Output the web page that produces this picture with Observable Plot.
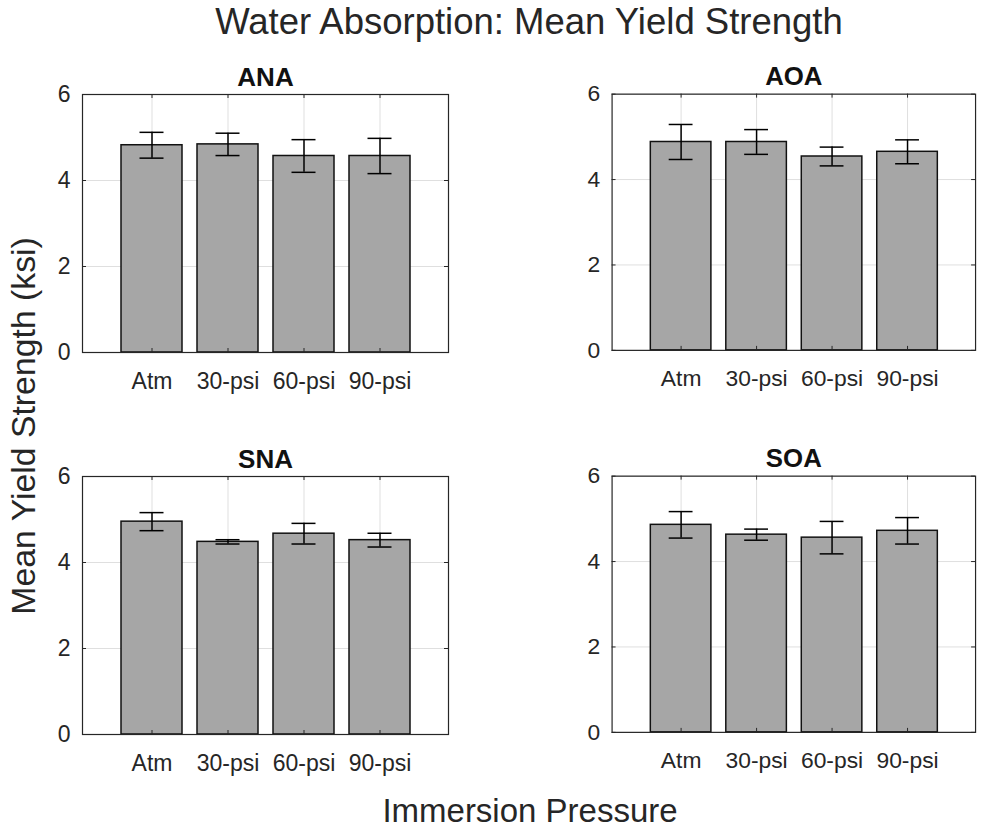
<!DOCTYPE html>
<html>
<head>
<meta charset="utf-8">
<script src="https://cdn.jsdelivr.net/npm/d3@7"></script>
<script src="https://cdn.jsdelivr.net/npm/@observablehq/plot@0.6"></script>
<style>
  body { margin: 0; background: #fff; }
  #fig { position: relative; width: 985px; height: 828px; background: #fff; overflow: hidden;
         font-family: "Liberation Sans", Arial, Helvetica, sans-serif; color: #262626; }
  .panel { position: absolute; }
  .lbl { position: absolute; white-space: nowrap; line-height: 1; text-align: center; }
  #title { left: 79px; width: 900px; top: 4px; font-size: 36.5px; }
  #xlabel { left: 230px; width: 600px; top: 794px; font-size: 33px; }
  #ylabel { left: -276px; width: 600px; top: 409px; font-size: 33.8px; transform: rotate(-90deg); }
</style>
</head>
<body>
<div id="fig">
  <div class="lbl" id="title">Water Absorption: Mean Yield Strength</div>
  <div class="lbl" id="ylabel">Mean Yield Strength (ksi)</div>
  <div class="lbl" id="xlabel">Immersion Pressure</div>
</div>
<script>
// Immersion pressure categories (x tick labels)
const pressures = ["Atm", "30-psi", "60-psi", "90-psi"];
// Y tick values (ksi)
const yTicks = [0, 2, 4, 6];
// Panel names
const panelNames = ["ANA", "AOA", "SNA", "SOA"];

// Mean yield strength (ksi) and error-bar half-lengths per panel
const meanANA = [4.82, 4.84, 4.57, 4.57];
const errANA  = [0.30, 0.26, 0.38, 0.41];
const meanAOA = [4.88, 4.88, 4.54, 4.65];
const errAOA  = [0.41, 0.29, 0.22, 0.28];
const meanSNA = [4.95, 4.48, 4.67, 4.52];
const errSNA  = [0.21, 0.05, 0.24, 0.16];
const meanSOA = [4.86, 4.63, 4.56, 4.72];
const errSOA  = [0.31, 0.13, 0.38, 0.31];

const series = {
  ANA: [meanANA, errANA],
  AOA: [meanAOA, errAOA],
  SNA: [meanSNA, errSNA],
  SOA: [meanSOA, errSOA]
};

// Axes box geometry
const boxW = 366, boxH = 258;
const ML = 60, MR = 10, MT = 50, MB = 50;
const W = ML + boxW + MR, H = MT + boxH + MB;
const boxLefts = [82, 612];
const boxTops = [94, 476];

const ink = "#262626";
const gridColor = "#dfdfdf";
const tickLen = 4;

function panel(name) {
  const [means, errs] = series[name];
  const rows = pressures.map((p, i) => ({pressure: p, mean: means[i], err: errs[i]}));
  return Plot.plot({
    width: W, height: H,
    marginLeft: ML, marginRight: MR, marginTop: MT, marginBottom: MB,
    style: {fontFamily: '"Liberation Sans", Arial, Helvetica, sans-serif', fontSize: "23px",
            color: ink, background: "transparent", overflow: "visible"},
    x: {domain: pressures, paddingInner: 0.2, paddingOuter: 0.5, label: null},
    y: {domain: [0, 6], label: null},
    marks: [
      Plot.gridY(yTicks, {stroke: gridColor, strokeOpacity: 1}),
      Plot.gridX(pressures, {stroke: gridColor, strokeOpacity: 1}),
      Plot.barY(rows, {x: "pressure", y: "mean", fill: "#a6a6a6", stroke: "#111", strokeWidth: 1.5}),
      // error bars with caps
      Plot.ruleX(rows, {x: "pressure", y1: d => d.mean - d.err, y2: d => d.mean + d.err, stroke: "#000", strokeWidth: 1.5}),
      Plot.tickY(rows, {x: "pressure", y: d => d.mean - d.err, insetLeft: 18.5, insetRight: 18.5, stroke: "#000", strokeWidth: 1.5}),
      Plot.tickY(rows, {x: "pressure", y: d => d.mean + d.err, insetLeft: 18.5, insetRight: 18.5, stroke: "#000", strokeWidth: 1.5}),
      // inward tick marks on all four sides
      Plot.ruleX(pressures, {x: d => d, insetTop: boxH - tickLen, stroke: ink}),
      Plot.ruleX(pressures, {x: d => d, insetBottom: boxH - tickLen, stroke: ink}),
      Plot.ruleY(yTicks, {y: d => d, insetRight: boxW - tickLen, stroke: ink}),
      Plot.ruleY(yTicks, {y: d => d, insetLeft: boxW - tickLen, stroke: ink}),
      Plot.axisX({tickSize: 0, tickPadding: 20, fontSize: 23}),
      Plot.axisY(yTicks, {tickSize: 0, tickPadding: 12, fontSize: 23}),
      Plot.text([name], {frameAnchor: "top", dy: -9, lineAnchor: "bottom", fontWeight: "bold", fontSize: 26, fill: "#111"}),
      Plot.frame({stroke: ink, strokeWidth: 1.2})
    ]
  });
}

const fig = document.getElementById("fig");
panelNames.forEach((name, i) => {
  const col = i % 2, row = Math.floor(i / 2);
  const wrap = document.createElement("div");
  wrap.className = "panel";
  wrap.style.left = (boxLefts[col] - ML) + "px";
  wrap.style.top = (boxTops[row] - MT) + "px";
  wrap.appendChild(panel(name));
  fig.appendChild(wrap);
});
</script>
</body>
</html>
